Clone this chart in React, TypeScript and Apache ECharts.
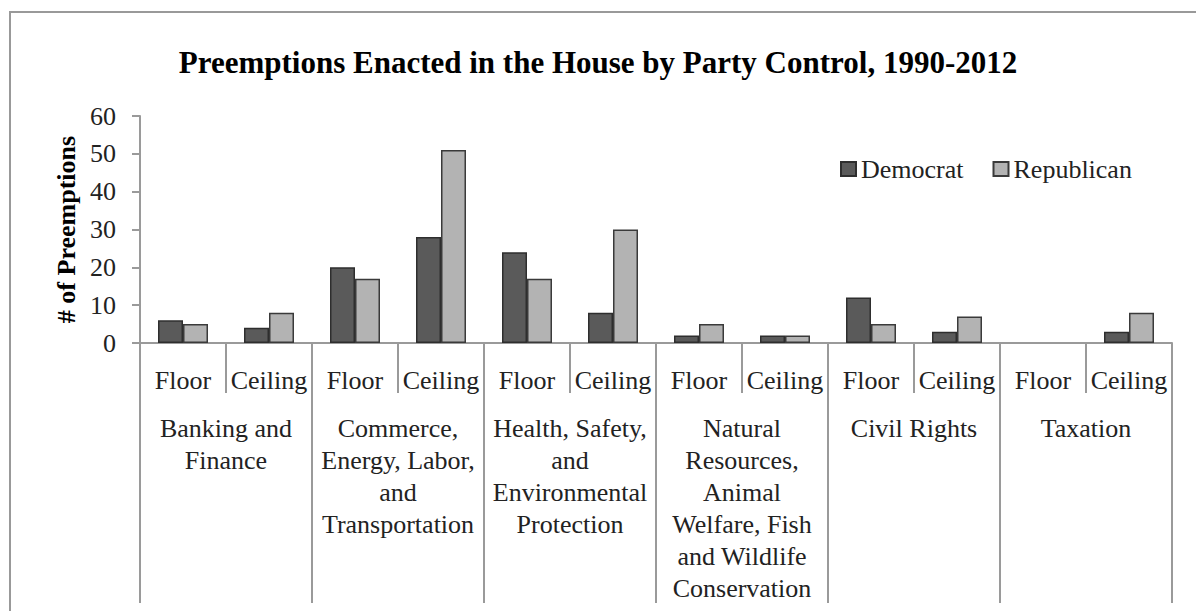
import React, { useEffect, useRef } from "react";
import * as echarts from "echarts";

const subCategories = ["Floor", "Ceiling", "Floor", "Ceiling", "Floor", "Ceiling", "Floor", "Ceiling", "Floor", "Ceiling", "Floor", "Ceiling"];
const groupCategories = [
  "Banking and\nFinance",
  "Commerce,\nEnergy, Labor,\nand\nTransportation",
  "Health, Safety,\nand\nEnvironmental\nProtection",
  "Natural\nResources,\nAnimal\nWelfare, Fish\nand Wildlife\nConservation",
  "Civil Rights",
  "Taxation",
];
const democrat = [6, 4, 20, 28, 24, 8, 2, 2, 12, 3, 0, 3];
const republican = [5, 8, 17, 51, 17, 30, 5, 2, 5, 7, 0, 8];
const yTicks = { min: 0, max: 60, interval: 10 };

const FONT = "'Liberation Serif', 'Times New Roman', serif";
const AXIS_GRAY = "#9a9a9a";

function toData(values: number[]) {
  return values.map((v) => (v === 0 ? { value: v, itemStyle: { borderWidth: 0 } } : v));
}

export default function App() {
  const ref = useRef<HTMLDivElement>(null);
  useEffect(() => {
    if (!ref.current) return;
    const chart = echarts.init(ref.current, undefined, { renderer: "svg" });
    chart.setOption({
      animation: false,
      backgroundColor: "#ffffff",
      textStyle: { fontFamily: FONT },
      title: {
        text: "Preemptions Enacted in the House by Party Control, 1990-2012",
        left: "center",
        top: 42,
        textStyle: { fontFamily: FONT, fontSize: 31, fontWeight: "bold", color: "#000" },
      },
      graphic: [
        {
          type: "rect",
          silent: true,
          shape: { x: 10, y: 12, width: 1300, height: 700 },
          style: { fill: "none", stroke: "#999", lineWidth: 2 },
        },
      ],
      legend: {
        left: 835,
        top: 151,
        itemWidth: 15,
        itemHeight: 14,
        itemGap: 29,
        icon: "rect",
        textStyle: { fontFamily: FONT, fontSize: 26, fontWeight: "normal", color: "#222" },
        data: ["Democrat", "Republican"],
      },
      grid: { left: 140, right: 24, top: 116, bottom: 268, containLabel: false },
      xAxis: [
        {
          type: "category",
          data: subCategories,
          position: "bottom",
          axisLine: { show: true, lineStyle: { color: AXIS_GRAY, width: 2 } },
          axisTick: { show: true, interval: 0, length: 50, lineStyle: { color: AXIS_GRAY, width: 2 } },
          axisLabel: { interval: 0, margin: 24, fontFamily: FONT, fontWeight: "normal", fontSize: 26, color: "#222" },
        },
        {
          type: "category",
          data: groupCategories,
          position: "bottom",
          axisLine: { show: false },
          axisTick: { show: true, interval: 0, length: 260, lineStyle: { color: AXIS_GRAY, width: 2 } },
          axisLabel: { interval: 0, margin: 69, lineHeight: 32, fontFamily: FONT, fontWeight: "normal", fontSize: 26, color: "#222", align: "center" },
        },
      ],
      yAxis: {
        type: "value",
        min: yTicks.min,
        max: yTicks.max,
        interval: yTicks.interval,
        name: "# of Preemptions",
        nameLocation: "middle",
        nameRotate: 90,
        nameGap: 61,
        nameTextStyle: { fontFamily: FONT, fontSize: 26, fontWeight: "bold", color: "#000" },
        axisLine: { show: true, lineStyle: { color: AXIS_GRAY, width: 2 } },
        axisTick: { show: true, length: 8, lineStyle: { color: AXIS_GRAY, width: 2 } },
        splitLine: { show: false },
        axisLabel: { margin: 24, fontFamily: FONT, fontWeight: "normal", fontSize: 26, color: "#222" },
      },
      series: [
        {
          name: "Democrat",
          type: "bar",
          xAxisIndex: 0,
          data: toData(democrat),
          barWidth: 25,
          barGap: "0%",
          itemStyle: { color: "#5a5a5a", borderColor: "#2e2e2e", borderWidth: 1.5 },
        },
        {
          name: "Republican",
          type: "bar",
          xAxisIndex: 0,
          data: toData(republican),
          barWidth: 25,
          barGap: "0%",
          itemStyle: { color: "#b3b3b3", borderColor: "#3a3a3a", borderWidth: 1.5 },
        },
      ],
    });
    return () => chart.dispose();
  }, []);
  return <div ref={ref} style={{ position: "absolute", left: 0, top: 0, width: 1196, height: 611 }} />;
}
